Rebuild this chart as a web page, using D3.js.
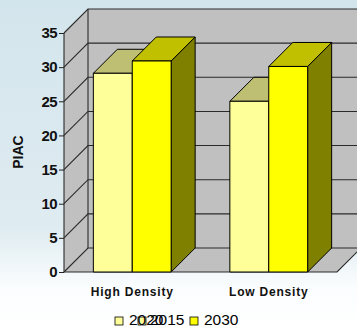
<!DOCTYPE html>
<html>
<head>
<meta charset="utf-8">
<script src="https://cdn.jsdelivr.net/npm/d3@7"></script>
<style>
  body { margin: 0; }
  svg { display: block; font-family: "Liberation Sans", Arial, sans-serif; }
</style>
</head>
<body>
<div id="chart"></div>
<script>
// data
const categories = ["High Density", "Low Density"];
const seriesNames = ["2015", "2030"];
const values2015 = [29.1, 25.0];
const values2030 = [30.9, 30.1];
const legendNames = ["2020", "2015", "2030"];
const yTicks = [0, 5, 10, 15, 20, 25, 30, 35];

const width = 357, height = 328;
const depth = { dx: 24, dy: -24 };
const plot = { left: 64, right: 337, top: 33, bottom: 272 };

const front = { "2015": "#ffff99", "2030": "#ffff00" };
const topC = { "2015": "#bfbf73", "2030": "#c0c000" };
const sideC = { "2015": "#80804c", "2030": "#808000" };

const svg = d3.select("#chart").append("svg")
  .attr("width", width)
  .attr("height", height);

// background
const defs = svg.append("defs");
const grad = defs.append("linearGradient")
  .attr("id", "bg").attr("x1", 0).attr("y1", 0).attr("x2", 0).attr("y2", 1);
grad.append("stop").attr("offset", "0%").attr("stop-color", "#d3e5ec");
grad.append("stop").attr("offset", "70%").attr("stop-color", "#dfecf1");
grad.append("stop").attr("offset", "88%").attr("stop-color", "#fbfdfe");
grad.append("stop").attr("offset", "100%").attr("stop-color", "#ffffff");
svg.append("rect").attr("width", width).attr("height", height).attr("fill", "url(#bg)");

const y = d3.scaleLinear().domain([0, 35]).range([plot.bottom, plot.top]);
const x0 = d3.scaleBand().domain(categories).range([plot.left, plot.right])
  .paddingInner(0.43).paddingOuter(0.215);
const x1 = d3.scaleBand().domain(seriesNames).range([0, x0.bandwidth()]);

const pts = a => a.map(p => p.join(",")).join(" ");
const y0 = y(0), yTop = y(35);

// walls
svg.append("polygon") // left wall
  .attr("points", pts([[plot.left, y0], [plot.left, yTop], [plot.left + depth.dx, yTop + depth.dy], [plot.left + depth.dx, y0 + depth.dy]]))
  .attr("fill", "#c0c0c0");
svg.append("polygon") // back wall
  .attr("points", pts([[plot.left + depth.dx, yTop + depth.dy], [plot.right + depth.dx, yTop + depth.dy], [plot.right + depth.dx, y0 + depth.dy], [plot.left + depth.dx, y0 + depth.dy]]))
  .attr("fill", "#c0c0c0");
svg.append("polygon") // floor
  .attr("points", pts([[plot.left, y0], [plot.right, y0], [plot.right + depth.dx, y0 + depth.dy], [plot.left + depth.dx, y0 + depth.dy]]))
  .attr("fill", "#c0c0c0");

// gridlines
const grid = svg.append("g").attr("stroke", "#2a2a2a").attr("stroke-width", 1.1).attr("fill", "none");
yTicks.forEach(v => {
  grid.append("polyline")
    .attr("points", pts([[plot.left, y(v)], [plot.left + depth.dx, y(v) + depth.dy], [plot.right + depth.dx, y(v) + depth.dy]]));
});
grid.append("line").attr("x1", plot.left + depth.dx).attr("x2", plot.left + depth.dx)
  .attr("y1", yTop + depth.dy).attr("y2", y0 + depth.dy);
grid.append("line").attr("x1", plot.left).attr("x2", plot.left).attr("y1", y0).attr("y2", yTop);
grid.append("polyline")
  .attr("points", pts([[plot.left, y0], [plot.right, y0], [plot.right + depth.dx, y0 + depth.dy]]));

// y axis
const yAxis = d3.axisLeft(y).tickValues(yTicks).tickSize(5).tickPadding(2);
const ga = svg.append("g").attr("transform", "translate(" + plot.left + ",0)").call(yAxis);
ga.select(".domain").remove();
ga.selectAll(".tick line").attr("stroke", "#222");
ga.selectAll(".tick text")
  .attr("font-family", "Liberation Sans, Arial, sans-serif")
  .attr("font-size", 15).attr("font-weight", "bold").attr("fill", "#111")
  .attr("letter-spacing", -0.6);

svg.append("text")
  .attr("transform", "translate(23,152) rotate(-90)")
  .attr("text-anchor", "middle")
  .attr("font-size", 14).attr("font-weight", "bold").attr("fill", "#111")
  .text("PIAC");

// bars
const rows = categories.map((c, i) => ({ cat: c, vals: { "2015": values2015[i], "2030": values2030[i] } }));
rows.forEach(r => {
  seriesNames.forEach(s => {
    const bx = x0(r.cat) + x1(s), bw = x1.bandwidth();
    const by = y(r.vals[s]);
    const g = svg.append("g").attr("stroke", "#000").attr("stroke-width", 1).attr("stroke-linejoin", "round");
    g.append("polygon") // side
      .attr("points", pts([[bx + bw, by], [bx + bw + depth.dx, by + depth.dy], [bx + bw + depth.dx, y0 + depth.dy], [bx + bw, y0]]))
      .attr("fill", sideC[s]);
    g.append("polygon") // top
      .attr("points", pts([[bx, by], [bx + depth.dx, by + depth.dy], [bx + bw + depth.dx, by + depth.dy], [bx + bw, by]]))
      .attr("fill", topC[s]);
    g.append("rect") // front
      .attr("x", bx).attr("y", by).attr("width", bw).attr("height", y0 - by)
      .attr("fill", front[s]);
  });
});

// category labels
svg.selectAll(".cat").data(categories).join("text")
  .attr("class", "cat")
  .attr("x", d => x0(d) + x0.bandwidth() / 2)
  .attr("y", 296)
  .attr("text-anchor", "middle")
  .attr("font-size", 12).attr("font-weight", "bold").attr("fill", "#111")
  .attr("letter-spacing", 0.8)
  .text(d => d);

// legend
const legendX = [115, 138, 190];
const legendTextX = [129, 150, 204];
const legendFill = ["#ffff99", "#ffff99", "#ffff00"];
const lg = svg.append("g");
lg.selectAll("rect").data(legendNames).join("rect")
  .attr("x", (d, i) => legendX[i]).attr("y", 317)
  .attr("width", 8).attr("height", 8)
  .attr("fill", (d, i) => legendFill[i]).attr("stroke", "#000").attr("stroke-width", 0.8);
lg.selectAll("text").data(legendNames).join("text")
  .attr("x", (d, i) => legendTextX[i]).attr("y", 325)
  .attr("font-size", 15.5).attr("fill", "#000")
  .text(d => d);
</script>
</body>
</html>
